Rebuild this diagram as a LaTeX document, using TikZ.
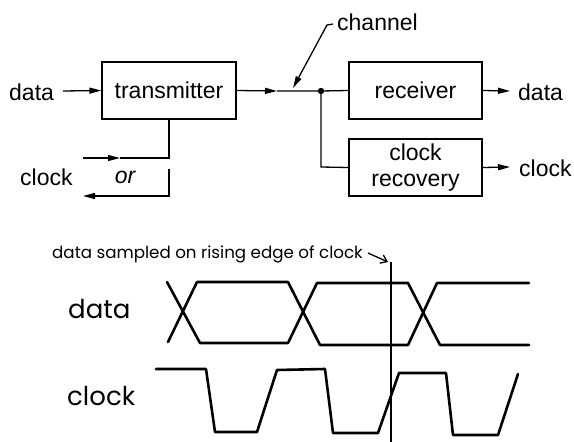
\documentclass[tikz,border=0pt]{standalone}
\usepackage{fontspec}
\setmainfont{Liberation Sans}
\newfontfamily\handfont{Poppins}
\usetikzlibrary{arrows.meta}
\begin{document}
\begin{tikzpicture}[x=1pt,y=-1pt,
  wire/.style={line width=1.3pt},
  tip/.style={-{Triangle[length=12pt,width=6pt]}},
  blockbox/.style={draw,line width=1.3pt,minimum width=134pt,minimum height=57pt,inner sep=0pt,align=center,font=\fontsize{23}{26}\selectfont},
  lbl/.style={inner sep=0pt,font=\fontsize{23}{26}\selectfont},
  hand/.style={inner sep=0pt,font=\handfont\fontsize{26}{30}\selectfont},
  handsmall/.style={inner sep=0pt,font=\handfont\fontsize{16.7}{20}\selectfont},
  wave/.style={line width=2.6pt,line cap=round,line join=round}]
\useasboundingbox (0,0) rectangle (574,442);
% blocks
\node[blockbox] (tx) at (169,90.5) {transmitter};
\node[blockbox,minimum width=133pt] (rx) at (415.5,90.5) {receiver};
\node[blockbox,minimum width=133pt] (cr) at (415.5,167.5) {clock\\recovery};
% labels
\node[lbl,anchor=base west] (din) at (9,100) {data};
\node[lbl,anchor=base west] (clkin) at (20,185) {clock};
\node[lbl,anchor=base,font=\fontsize{23}{26}\selectfont\itshape] (or) at (125,183) {or};
\node[lbl,anchor=base west] (chan) at (337,30) {channel};
\node[lbl,anchor=base west] (dout) at (518,100) {data};
\node[lbl,anchor=base west] (clkout) at (519,176) {clock};
% coordinates
\coordinate (dinS) at (63,91);
\coordinate (txmid) at (277,91);
\coordinate (junc) at (321,91);
\coordinate (jdown) at (321,167);
\coordinate (chtop) at (333,24);
\coordinate (chbend) at (327,25);
\coordinate (chtip) at (293,88);
\coordinate (c1a) at (83,158);
\coordinate (c1m) at (120,158);
\coordinate (c1b) at (169,158);
\coordinate (c2a) at (169,169);
\coordinate (c2b) at (169,196);
\coordinate (c2m) at (112,196);
\coordinate (c2c) at (83,196);
\coordinate (rxo) at (510,91);
\coordinate (cro) at (510,167);
% connectors
\draw[wire,tip] (dinS) -- (tx.west);
\draw[wire,tip] (tx.east) -- (txmid);
\draw[wire] (txmid) -- (junc) -- (rx.west);
\draw[wire] (junc) -- (jdown) -- (cr.west);
\fill (junc) circle (3.2pt);
\draw[wire,tip] (chtop) -- (chbend) -- (chtip);
\draw[wire,tip] (c1a) -- (c1m);
\draw[wire] (c1m) -- (c1b) -- (tx.south);
\draw[wire] (c2a) -- (c2b) -- (c2m);
\draw[wire,tip] (c2m) -- (c2c);
\draw[wire,tip] (rx.east) -- (rxo);
\draw[wire,tip] (cr.east) -- (cro);
% timing diagram
\node[handsmall,anchor=base west] (samp) at (52,258) {data sampled on rising edge of clock};
\node[hand,anchor=base west] (dlab) at (68,318) {data};
\node[hand,anchor=base west] (clab) at (67,405) {clock};
\coordinate (sa) at (368,253);
\coordinate (sb) at (388,262);
\draw[line width=1.3pt,-{Straight Barb[length=6pt,width=9pt]}] (sa) -- (sb);
\coordinate (vt) at (391,262);
\coordinate (vb) at (391,442);
\draw[line width=1.3pt] (vt) -- (vb);
% data waveform
\draw[wave] (167,282) -- (200,343) -- (288,343) -- (317,283) -- (408,283) -- (440,345) -- (529,345);
\draw[wave] (168,342) -- (197,282) -- (288,282) -- (320,345) -- (408,345) -- (437,283) -- (529,283);
% clock waveform
\draw[wave] (156,369) -- (206,369) -- (215,432) -- (257,432) -- (277,370) -- (325,369) -- (333,433) -- (378,433) -- (399,373) -- (446,373) -- (453,435) -- (498,435) -- (518,374);
\end{tikzpicture}
\end{document}
